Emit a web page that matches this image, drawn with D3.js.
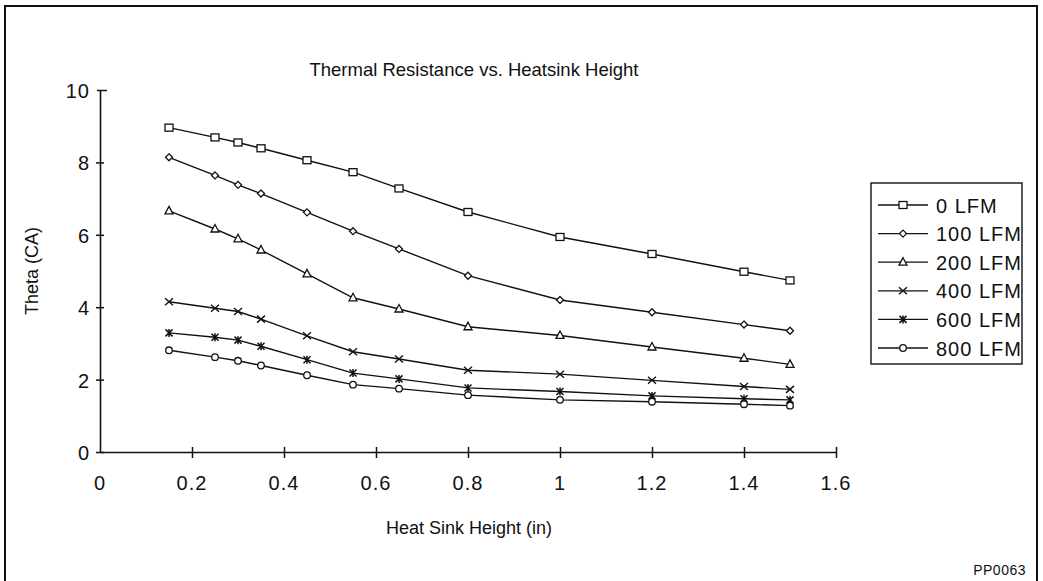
<!DOCTYPE html>
<html>
<head>
<meta charset="utf-8">
<script src="https://cdn.jsdelivr.net/npm/d3@7"></script>
<style>
  html, body { margin: 0; padding: 0; background: #fff; }
  svg { display: block; font-family: "Liberation Sans", Arial, Helvetica, sans-serif; }
</style>
</head>
<body>
<svg id="chart" width="1043" height="581"></svg>
<script>
// Heat sink heights (in) at which thermal resistance was measured
const heights = [0.15, 0.25, 0.3, 0.35, 0.45, 0.55, 0.65, 0.8, 1.0, 1.2, 1.4, 1.5];

// Theta (CA) for each airflow
const lfm0   = [8.96, 8.69, 8.55, 8.39, 8.06, 7.73, 7.28, 6.63, 5.94, 5.47, 4.98, 4.74];
const lfm100 = [8.14, 7.64, 7.38, 7.14, 6.62, 6.10, 5.61, 4.87, 4.20, 3.86, 3.52, 3.35];
const lfm200 = [6.66, 6.16, 5.89, 5.58, 4.92, 4.26, 3.95, 3.46, 3.22, 2.90, 2.59, 2.42];
const lfm400 = [4.15, 3.97, 3.88, 3.67, 3.21, 2.77, 2.57, 2.26, 2.15, 1.98, 1.81, 1.73];
const lfm600 = [3.29, 3.17, 3.09, 2.92, 2.55, 2.18, 2.02, 1.77, 1.67, 1.55, 1.47, 1.44];
const lfm800 = [2.81, 2.62, 2.52, 2.39, 2.12, 1.86, 1.75, 1.57, 1.44, 1.39, 1.32, 1.28];

const seriesNames = ["0 LFM", "100 LFM", "200 LFM", "400 LFM", "600 LFM", "800 LFM"];
const seriesValues = [lfm0, lfm100, lfm200, lfm400, lfm600, lfm800];
const markerKinds = ["square", "diamond", "triangle", "cross", "asterisk", "circle"];

const xTicks = [0, 0.2, 0.4, 0.6, 0.8, 1, 1.2, 1.4, 1.6];
const yTicks = [0, 2, 4, 6, 8, 10];

const titleText = "Thermal Resistance vs. Heatsink Height";
const xTitle = "Heat Sink Height (in)";
const yTitle = "Theta (CA)";
const footText = "PP0063";

const svg = d3.select("#chart");

// page frame
svg.append("path")
  .attr("d", "M5,590 L5,6 L1037,6 L1037,590")
  .attr("fill", "none").attr("stroke", "#111").attr("stroke-width", 2);

const x = d3.scaleLinear().domain([0, 1.6]).range([100, 836]);
const y = d3.scaleLinear().domain([0, 10]).range([452, 90]);

// axes: ticks cross the axis line
const xAxis = svg.append("g").attr("transform", `translate(0,${y(0)})`)
  .call(d3.axisBottom(x).tickValues(xTicks.slice(1)).tickSize(0).tickFormat(""));
const yAxis = svg.append("g").attr("transform", `translate(${x(0)},0)`)
  .call(d3.axisLeft(y).tickValues(yTicks).tickSize(0).tickFormat(""));
[xAxis, yAxis].forEach(g => {
  g.select(".domain").attr("stroke", "#111").attr("stroke-width", 1.6);
});
xAxis.selectAll(".tick line").attr("y1", -5).attr("y2", 6).attr("stroke", "#111").attr("stroke-width", 1.5);
yAxis.selectAll(".tick line").attr("x1", -4).attr("x2", 4).attr("stroke", "#111").attr("stroke-width", 1.5);
yAxis.selectAll(".tick").filter(d => d === 10).select("line").attr("x1", -3).attr("x2", 7);

// tick labels
svg.append("g").selectAll("text").data(xTicks).join("text")
  .attr("x", d => x(d)).attr("y", 490)
  .attr("text-anchor", "middle")
  .attr("font-size", 20).attr("letter-spacing", 1).attr("fill", "#111")
  .text(d => d3.format("~g")(d));
svg.append("g").selectAll("text").data(yTicks).join("text")
  .attr("x", 90).attr("y", d => y(d) + 8)
  .attr("text-anchor", "end")
  .attr("font-size", 20).attr("letter-spacing", 1).attr("fill", "#111")
  .text(d => d);

// titles
svg.append("text").attr("x", 474).attr("y", 76).attr("text-anchor", "middle")
  .attr("font-size", 18.5).attr("fill", "#111").text(titleText);
svg.append("text").attr("x", 469).attr("y", 534).attr("text-anchor", "middle")
  .attr("font-size", 18).attr("fill", "#111").text(xTitle);
svg.append("text").attr("transform", "translate(38,271) rotate(-90)")
  .attr("text-anchor", "middle")
  .attr("font-size", 18).attr("fill", "#111").text(yTitle);
svg.append("text").attr("x", 1026).attr("y", 575).attr("text-anchor", "end")
  .attr("font-size", 14).attr("letter-spacing", 0.5).attr("fill", "#111").text(footText);

// marker drawing
function drawMarker(g, kind, cx, cy) {
  const s = "#111";
  if (kind === "square") {
    g.append("rect").attr("x", cx - 4).attr("y", cy - 3.5).attr("width", 8).attr("height", 7)
      .attr("fill", "#fff").attr("stroke", s).attr("stroke-width", 1.3);
  } else if (kind === "diamond") {
    g.append("path").attr("d", `M${cx},${cy-3.5} L${cx+3.5},${cy} L${cx},${cy+3.5} L${cx-3.5},${cy} Z`)
      .attr("fill", "#fff").attr("stroke", s).attr("stroke-width", 1.3);
  } else if (kind === "triangle") {
    g.append("path").attr("d", `M${cx},${cy-4.5} L${cx+4},${cy+3} L${cx-4},${cy+3} Z`)
      .attr("fill", "#fff").attr("stroke", s).attr("stroke-width", 1.3);
  } else if (kind === "cross") {
    g.append("path").attr("d", `M${cx-4},${cy-3.5} L${cx+4},${cy+3.5} M${cx-4},${cy+3.5} L${cx+4},${cy-3.5}`)
      .attr("fill", "none").attr("stroke", s).attr("stroke-width", 1.4);
  } else if (kind === "asterisk") {
    g.append("path").attr("d", `M${cx-3.5},${cy-3.5} L${cx+3.5},${cy+3.5} M${cx-3.5},${cy+3.5} L${cx+3.5},${cy-3.5} M${cx},${cy-4} L${cx},${cy+4}`)
      .attr("fill", "none").attr("stroke", s).attr("stroke-width", 1.5);
  } else if (kind === "circle") {
    g.append("circle").attr("cx", cx).attr("cy", cy).attr("r", 3.3)
      .attr("fill", "#fff").attr("stroke", s).attr("stroke-width", 1.3);
  }
}

// series lines and markers
const line = d3.line().x(d => x(d[0])).y(d => y(d[1]));
seriesValues.forEach((vals, i) => {
  const pts = heights.map((h, j) => [h, vals[j]]);
  const g = svg.append("g");
  g.append("path").datum(pts).attr("d", line)
    .attr("fill", "none").attr("stroke", "#111").attr("stroke-width", 1.4);
  pts.forEach(p => drawMarker(g, markerKinds[i], x(p[0]), y(p[1])));
});

// legend
const legend = svg.append("g");
legend.append("rect").attr("x", 871).attr("y", 183).attr("width", 151).attr("height", 181)
  .attr("fill", "#fff").attr("stroke", "#111").attr("stroke-width", 1.4);
seriesNames.forEach((name, i) => {
  const ly = 205 + i * 28.6;
  legend.append("line").attr("x1", 878).attr("x2", 928).attr("y1", ly).attr("y2", ly)
    .attr("stroke", "#111").attr("stroke-width", 1.3);
  drawMarker(legend, markerKinds[i], 903, ly);
  legend.append("text").attr("x", 936).attr("y", ly + 7.5)
    .attr("font-size", 20).attr("letter-spacing", 1).attr("fill", "#111").text(name);
});
</script>
</body>
</html>
